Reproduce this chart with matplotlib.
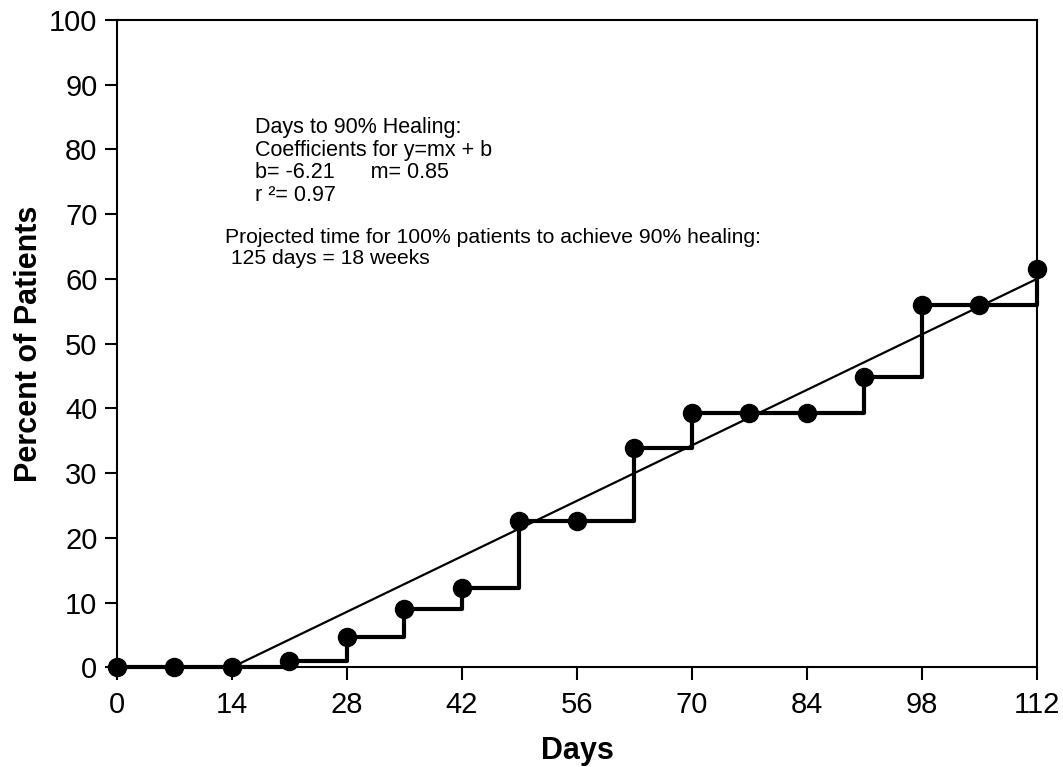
import matplotlib
matplotlib.use('Agg')
from matplotlib import pyplot as plt

plt.rcParams['font.family'] = ['Liberation Sans', 'DejaVu Sans']

days = [0, 7, 14, 21, 28, 35, 42, 49, 56, 63, 70, 77, 84, 91, 98, 105, 112]
percent = [0, 0, 0, 1, 4.7, 9, 12.3, 22.6, 22.6, 33.8, 39.3, 39.3, 39.3, 44.8, 56, 56, 61.6]

# regression line as drawn (start / end)
fit_x = [14, 112]
fit_y = [0, 60]

xticks = [0, 14, 28, 42, 56, 70, 84, 98, 112]
yticks = [0, 10, 20, 30, 40, 50, 60, 70, 80, 90, 100]

fig = plt.figure(figsize=(10.63, 7.67), dpi=100)
ax = fig.add_axes([0.110, 0.130, 0.8655, 0.844])

ax.step(days, percent, where='post', color='black', lw=3, zorder=2)
ax.plot(days, percent, 'o', color='black', ms=13, zorder=3)
ax.plot(fit_x, fit_y, color='black', lw=1.6, zorder=2)

ax.set_xlim(0, 112)
ax.set_ylim(0, 100)
ax.set_xticks(xticks)
ax.set_yticks(yticks)
ax.tick_params(axis='both', labelsize=21, length=9, width=1.5, direction='out', pad=5)
ax.tick_params(axis='x', pad=8)
for s in ax.spines.values():
    s.set_linewidth(1.5)
for ln in ax.lines:
    ln.set_clip_on(False)

ax.set_xlabel('Days', fontsize=22, fontweight='bold', labelpad=12)
ax.set_ylabel('Percent of Patients', fontsize=22, fontweight='bold', labelpad=4)

ax.text(16.8, 85, 'Days to 90% Healing:\nCoefficients for y=mx + b\nb= -6.21      m= 0.85\nr \u00b2= 0.97',
        fontsize=15.5, va='top', ha='left', linespacing=1.1)
ax.text(13.1, 67.8, 'Projected time for 100% patients to achieve 90% healing:\n 125 days = 18 weeks',
        fontsize=15.2, va='top', ha='left', linespacing=1.1)

fig.savefig('out.png', dpi=100)
